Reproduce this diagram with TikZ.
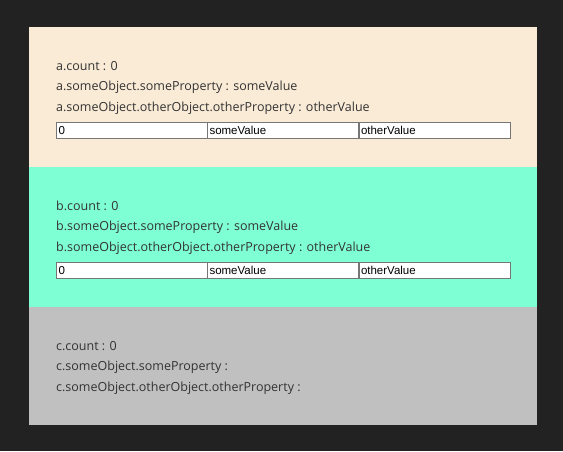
\documentclass[tikz,border=0pt]{standalone}
\usepackage{fontspec}
\setmainfont{Open Sans}
\newfontfamily\inputfont{Liberation Sans}
\usepackage{tikz}

\definecolor{page}{HTML}{222222}
\definecolor{antique}{HTML}{FAEBD7}
\definecolor{aqua}{HTML}{7FFFD4}
\definecolor{silver}{HTML}{C0C0C0}
\definecolor{ink}{HTML}{333333}
\definecolor{frame}{HTML}{767676}

\tikzset{
  line/.style={anchor=west,inner sep=0pt,text=ink,font=\fontsize{12.5}{14}\selectfont},
  cell/.style={draw=frame,line width=1pt,fill=white,text width=147pt,align=left,
               inner xsep=2pt,inner ysep=0pt,minimum height=16pt,
               anchor=west,text=black,font=\inputfont\fontsize{11.5}{13}\selectfont}
}

\begin{document}
\begin{tikzpicture}[x=1pt,y=-1pt]
        \fill[page] (0,0) rectangle (563,451);
        \fill[antique] (29,27) rectangle (537,167);
        \fill[aqua] (29,167) rectangle (537,307);
        \fill[silver] (29,307) rectangle (537,425);
        % the three objects
        \foreach \o/\y/\v/\w in {a/0/someValue/otherValue,b/140/someValue/otherValue,c/280//}{
            \node[line] (\o-count) at (56,66+\y) {\o.count : 0};
            \node[line] (\o-prop) at (56,87+\y) {\o.someObject.someProperty : \v};
            \node[line] (\o-other) at (56,108+\y) {\o.someObject.otherObject.otherProperty : \w};
        }
        % input fields
        \foreach \o/\y in {a/0,b/140}{
            \node[cell] (\o-in1) at (56,130.5+\y) {0};
            \node[cell] (\o-in2) at (207,130.5+\y) {someValue};
            \node[cell] (\o-in3) at (358.5,130.5+\y) {otherValue};
        }
    \end{tikzpicture}
\end{document}
